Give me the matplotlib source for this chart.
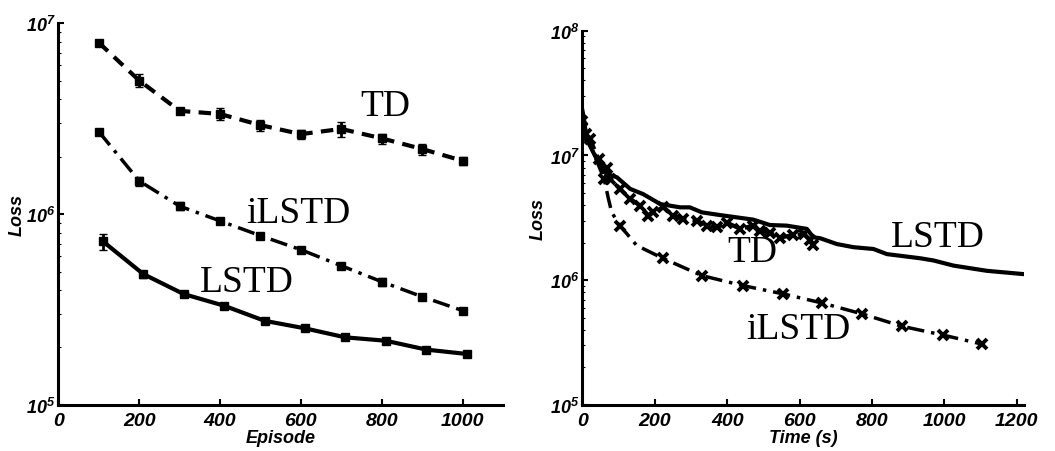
import matplotlib.pyplot as plt
import numpy as np
from matplotlib.ticker import FixedLocator, NullFormatter

plt.rcParams['mathtext.fontset'] = 'custom'
plt.rcParams['mathtext.rm'] = 'Liberation Sans:italic:bold'
plt.rcParams['mathtext.it'] = 'Liberation Sans:italic:bold'
plt.rcParams['font.family'] = 'Liberation Sans'

# left panel: loss vs episode
episodes = [100, 200, 300, 400, 500, 600, 700, 800, 900, 1000]
lstd_episodes = [110, 210, 310, 410, 510, 610, 710, 810, 910, 1010]
td_ep = [7.9e6, 5.0e6, 3.47e6, 3.34e6, 2.92e6, 2.62e6, 2.79e6, 2.49e6, 2.19e6, 1.90e6]
td_ep_err = [0.2e6, 0.4e6, 0.1e6, 0.25e6, 0.2e6, 0.15e6, 0.25e6, 0.15e6, 0.15e6, 0.1e6]
ilstd_ep = [2.70e6, 1.49e6, 1.10e6, 9.2e5, 7.7e5, 6.5e5, 5.36e5, 4.42e5, 3.69e5, 3.12e5]
ilstd_ep_err = [0.1e6, 0.08e6, 0.05e6, 0.03e6, 0.03e6, 0.02e6, 0.02e6, 0.02e6, 0.01e6, 0.01e6]
lstd_ep = [7.2e5, 4.85e5, 3.81e5, 3.31e5, 2.76e5, 2.52e5, 2.26e5, 2.17e5, 1.95e5, 1.85e5]
lstd_ep_err = [0.7e5, 0.2e5, 0.15e5, 0.1e5, 0.08e5, 0.05e5, 0.05e5, 0.05e5, 0.04e5, 0.04e5]

# right panel: loss vs time
lstd_t = [0, 3, 12, 40, 67, 95, 132, 168, 215, 270, 297, 330, 380, 472, 518, 564, 620,
          638, 657, 703, 749, 804, 841, 933, 970, 1025, 1117, 1218]
lstd_tl = [2.3e7, 2.08e7, 1.35e7, 9.3e6, 7.1e6, 6.7e6, 5.4e6, 4.9e6, 4.08e6, 3.84e6, 3.84e6,
           3.5e6, 3.33e6, 3.06e6, 2.77e6, 2.74e6, 2.58e6, 2.21e6, 2.17e6, 1.95e6, 1.84e6,
           1.78e6, 1.62e6, 1.50e6, 1.44e6, 1.31e6, 1.19e6, 1.12e6]
td_t = [0, 10, 21, 45, 67, 76, 104, 132, 159, 182, 196, 224, 251, 279, 316, 343, 371, 399,
        436, 472, 491, 518, 546, 583, 611, 629, 638]
td_tl = [1.9e7, 1.5e7, 1.35e7, 9.3e6, 8.0e6, 6.5e6, 5.4e6, 4.5e6, 3.97e6, 3.3e6, 3.5e6,
         3.84e6, 3.3e6, 3.1e6, 3.0e6, 2.74e6, 2.65e6, 2.9e6, 2.58e6, 2.74e6, 2.5e6, 2.4e6,
         2.2e6, 2.3e6, 2.35e6, 2.1e6, 1.9e6]
ilstd_t = [0, 10, 25, 45, 60, 72, 81, 104, 150, 222, 330, 443, 555, 661, 773, 882, 995, 1103]
ilstd_tl = [1.7e7, 1.3e7, 1.15e7, 8.3e6, 6.5e6, 4.5e6, 3.5e6, 2.74e6, 1.9e6, 1.50e6, 1.09e6,
            9.06e5, 7.77e5, 6.58e5, 5.37e5, 4.28e5, 3.64e5, 3.08e5]
ilstd_marks = [0, 4, 7, 9, 10, 11, 12, 13, 14, 15, 16, 17]

tick_font = dict(fontsize=14, fontweight='bold', fontstyle='italic')
label_font = dict(fontsize=13, fontweight='bold', fontstyle='italic')
note_font = dict(family='Liberation Serif', fontsize=27)

fig = plt.figure(figsize=(10.55, 4.52), dpi=100)
ax1 = fig.add_axes([0.0553, 0.1018, 0.4215, 0.845])
ax2 = fig.add_axes([0.552, 0.1018, 0.4187, 0.828])


def style(ax, xmax, ymin, ymax, xticks):
    ax.set_yscale('log')
    ax.set_xlim(0, xmax)
    ax.set_ylim(ymin, ymax)
    for s in ['top', 'right']:
        ax.spines[s].set_visible(False)
    for s in ['left', 'bottom']:
        ax.spines[s].set_linewidth(2.2)
    ax.xaxis.set_major_locator(FixedLocator(xticks))
    ax.set_xticklabels([str(v) for v in xticks], **tick_font)
    decades = [10.0 ** k for k in range(int(np.log10(ymin)), int(np.log10(ymax)) + 1)]
    ax.yaxis.set_major_locator(FixedLocator(decades))
    ax.set_yticklabels([r'$10^{%d}$' % int(np.log10(d)) for d in decades], fontsize=13)
    ax.yaxis.set_minor_formatter(NullFormatter())
    ax.tick_params(axis='x', which='major', direction='in', length=4, width=1.5, pad=5)
    ax.tick_params(axis='y', which='major', direction='in', length=4, width=1.5, pad=2)
    ax.tick_params(axis='y', which='minor', direction='in', length=2, width=0.8)


style(ax1, 1100, 1e5, 1e7, [0, 200, 400, 600, 800, 1000])
ax1.errorbar(episodes, td_ep, yerr=td_ep_err, color='black', ls=(0, (3, 2)), lw=3,
             marker='s', ms=6, capsize=3, elinewidth=2)
ax1.errorbar(episodes, ilstd_ep, yerr=ilstd_ep_err, color='black', ls=(0, (5, 2, 1, 2)), lw=2.5,
             marker='s', ms=6, capsize=3, elinewidth=2)
ax1.errorbar(lstd_episodes, lstd_ep, yerr=lstd_ep_err, color='black', ls='-', lw=3,
             marker='s', ms=6, capsize=3, elinewidth=2)
ax1.text(808, 3.7e6, 'TD', ha='center', va='center', **note_font)
ax1.text(595, 1.02e6, 'iLSTD', ha='center', va='center', **note_font)
ax1.text(466, 4.4e5, 'LSTD', ha='center', va='center', **note_font)
ax1.set_xlabel('Episode', labelpad=0, **label_font)
ax1.set_ylabel('Loss', labelpad=0, **label_font)

style(ax2, 1220, 1e5, 1e8, [0, 200, 400, 600, 800, 1000, 1200])
ax2.plot(lstd_t, lstd_tl, color='black', ls='-', lw=3)
ax2.plot(td_t, td_tl, color='black', ls=(0, (3, 1.5)), lw=3, marker='x', ms=7, mew=2.8)
ax2.plot(ilstd_t, ilstd_tl, color='black', ls=(0, (5, 2, 1, 2)), lw=2.5,
         marker='x', ms=7, mew=2.8, markevery=ilstd_marks)
ax2.text(983, 2.22e6, 'LSTD', ha='center', va='center', **note_font)
ax2.text(469, 1.69e6, 'TD', ha='center', va='center', **note_font)
ax2.text(596, 4.07e5, 'iLSTD', ha='center', va='center', **note_font)
ax2.set_xlabel('Time (s)', labelpad=0, **label_font)
ax2.set_ylabel('Loss', labelpad=2, **label_font)

fig.savefig('out.png', dpi=100)
